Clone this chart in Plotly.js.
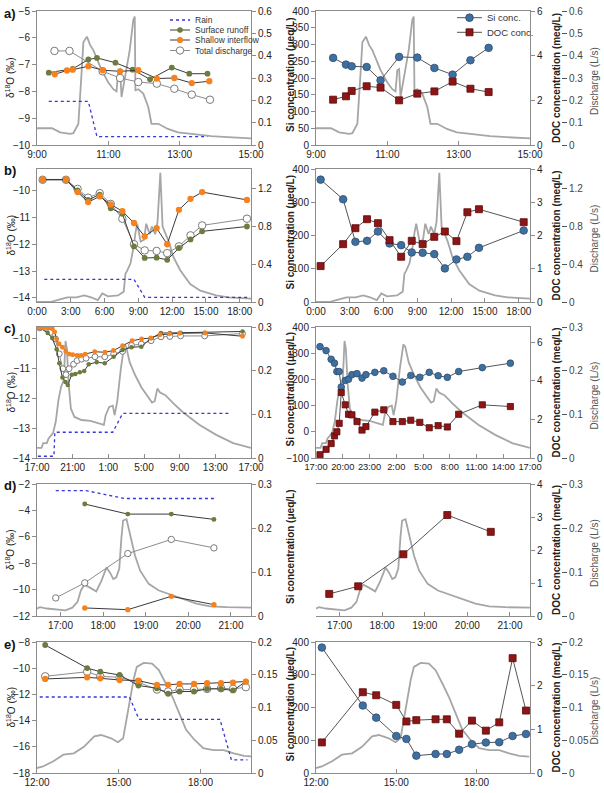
<!DOCTYPE html>
<html><head><meta charset="utf-8">
<script src="https://cdn.plot.ly/plotly-3.0.1.min.js"></script>
<style>html,body{margin:0;padding:0;background:#fff}#chart{width:604px;height:793px}</style>
</head><body><div id="chart"></div>
<script>
// ---------------- DATA ----------------
// Row a
const aTimeQ = [9.0,9.42,9.65,9.93,10.02,10.16,10.26,10.30,10.40,10.49,10.58,10.72,10.81,11.0,11.14,11.23,11.28,11.33,11.37,11.42,11.51,11.6,11.7,11.74,11.76,11.84,11.98,12.12,12.21,12.4,12.67,12.95,13.33,13.88,14.35,15.0];
const aQ = [0.075,0.075,0.057,0.05,0.053,0.095,0.35,0.46,0.485,0.447,0.425,0.365,0.335,0.28,0.25,0.24,0.335,0.34,0.215,0.26,0.35,0.425,0.56,0.575,0.245,0.25,0.23,0.17,0.095,0.095,0.072,0.057,0.05,0.04,0.035,0.03];
const aRainT = [9.33,10.44,10.68,13.78];
const aRain = [0.195,0.195,0.0375,0.0375];
const aSurfT = [9.33,10.0,10.44,10.68,11.2,11.68,12.17,12.78,13.27,13.78];
const aSurf = [-7.3,-7.16,-6.81,-6.75,-6.93,-7.19,-7.55,-7.11,-7.34,-7.34];
const aInterT = [9.5,9.84,10.0,10.44,10.84,11.33,11.84,12.36,12.85,13.34,13.83];
const aInter = [-7.36,-7.22,-7.19,-7.06,-7.21,-7.25,-7.21,-7.52,-7.5,-7.69,-7.62];
const aTotT = [9.49,9.91,10.84,11.33,11.84,12.36,12.85,13.34,13.85];
const aTot = [-6.49,-6.49,-7.25,-7.5,-7.65,-7.71,-7.9,-8.12,-8.31];
const aConcT = [9.48,9.84,10.0,10.42,10.81,11.33,11.84,12.32,12.83,13.33,13.84];
const aSi = [260,240,235,233,193,263,261,230,210,253,290];
const aDOC = [2.03,2.18,2.42,2.63,2.57,2.0,2.3,2.4,2.84,2.52,2.37];
// Row b
const bTimeQ = [0,1.2,1.8,2.7,3.5,4.2,4.8,5.4,5.8,6.3,7.2,7.7,7.85,8.0,8.3,8.6,8.75,8.9,9.2,9.5,9.7,10.0,10.2,10.5,10.7,10.95,11.15,11.4,11.7,12.1,12.7,13.6,14.5,15.9,17.0,19.0];
const bQ = [0,0,0.02,0.05,0.05,0.07,0.05,0.02,0.09,0.06,0.07,0.11,0.3,0.33,0.41,0.6,0.74,0.83,0.64,0.66,0.83,0.72,0.8,0.72,0.85,1.37,0.8,0.72,0.64,0.48,0.34,0.19,0.12,0.07,0.05,0.035];
const bRainT = [0.65,8.61,9.56,18.9];
const bRain = [0.24,0.24,0.05,0.05];
const bIsoT = [0.5,2.57,3.6,4.54,5.57,6.55,7.58,8.61,9.56,10.62,11.56,12.6,13.63,14.66,18.64];
const bSurf = [-9.6,-9.6,-10.0,-10.35,-10.15,-10.66,-10.87,-12.08,-12.51,-12.5,-12.58,-12.14,-11.82,-11.52,-11.34];
const bInter = [-9.59,-9.59,-10.06,-10.43,-10.22,-10.52,-10.77,-11.21,-11.71,-11.4,-12.0,-10.72,-10.31,-10.06,-10.35];
const bTot = [-9.6,-9.6,-9.94,-10.27,-10.1,-10.5,-11.05,-12.0,-12.23,-12.25,-12.33,-12.08,-11.67,-11.3,-11.05];
const bConcT = [0.41,2.41,3.5,4.53,5.5,6.53,7.56,8.5,9.47,10.5,11.44,12.47,13.44,14.47,18.44];
const bSi = [368,309,181,184,212,176,171,149,148,144,101,128,136,163,215];
const bDOC = [1.08,1.74,2.22,2.49,2.37,1.86,1.36,1.84,1.74,1.96,2.12,1.83,2.7,2.79,2.4];
// Row c (hours counted from 0:00 of the first day; 41 = 17:00 next day)
const cTimeQ = [17.0,17.5,17.7,18.1,18.3,18.8,19.1,19.4,19.7,20.0,20.2,20.35,20.55,20.8,21.2,22.0,23.0,24.2,24.5,24.7,25.1,25.5,25.7,26.0,26.4,26.8,27.0,27.4,28.0,28.7,29.3,29.9,30.2,30.5,30.8,31.4,32.3,33.3,35.2,37.1,39.0,41.0];
const cQ = [0.023,0.023,0.034,0.034,0.045,0.057,0.083,0.132,0.163,0.178,0.268,0.25,0.17,0.113,0.094,0.087,0.085,0.079,0.076,0.098,0.117,0.12,0.098,0.13,0.204,0.26,0.255,0.219,0.19,0.162,0.145,0.127,0.13,0.159,0.15,0.144,0.125,0.106,0.076,0.053,0.034,0.023];
const cRainT = [17.1,18.9,19.0,25.5,26.6,38.8];
const cRain = [0.004,0.004,0.059,0.059,0.102,0.102];
const cSurfT = [17.3,18.2,18.7,19.2,19.5,19.85,20.2,20.45,20.9,21.3,21.8,22.3,22.8,23.7,24.6,25.6,26.6,27.6,28.7,29.8,30.9,31.9,33.1,35.8,40.05];
const cSurf = [-9.63,-9.8,-9.97,-10.35,-10.82,-11.3,-11.45,-11.55,-11.2,-11.18,-11.12,-11.08,-10.85,-10.78,-10.82,-10.6,-10.37,-10.28,-10.26,-9.98,-9.8,-9.8,-9.79,-9.79,-9.75];
const cInterT = [17.3,17.76,18.22,18.71,18.98,19.2,19.47,19.85,20.23,20.62,21.0,21.5,21.95,22.41,23.48,24.62,25.57,26.6,27.67,28.73,29.76,30.79,31.86,33.0,35.86,40.05];
const cInter = [-9.63,-9.63,-9.63,-9.66,-9.77,-10.0,-10.17,-10.28,-10.42,-10.51,-10.53,-10.56,-10.56,-10.51,-10.43,-10.45,-10.39,-10.23,-10.06,-10.0,-9.97,-9.86,-9.83,-9.81,-9.8,-9.91];
const cTotT = [17.3,18.5,19.05,19.5,19.9,20.25,20.6,21.1,21.5,22.0,22.5,23.5,24.6,25.6,26.6,27.6,28.7,29.8,30.9,31.9,33.1,35.8,40.05];
const cTot = [-9.63,-9.78,-10.0,-10.5,-11.0,-11.2,-11.0,-10.85,-10.73,-10.68,-10.65,-10.6,-10.6,-10.5,-10.42,-10.22,-10.17,-10.06,-9.93,-9.92,-9.9,-9.9,-9.82];
const cConcT = [17.45,18.13,18.7,19.07,19.34,19.6,19.83,20.28,20.65,21.03,21.6,22.16,22.6,23.6,24.6,25.63,26.68,27.63,28.64,29.7,30.7,31.73,33.0,35.65,38.8];
const cSi = [325,310,277,262,230,230,171,196,201,218,222,205,218,227,233,212,190,215,208,227,214,208,230,245,262];
const cDOC = [0.17,0.45,0.75,1.15,1.36,1.8,3.4,2.76,2.27,2.24,1.89,1.45,1.63,2.38,2.5,1.89,1.89,1.96,1.85,1.57,1.68,1.61,2.27,2.76,2.67];
// Row d
const dTimeQ = [16.36,16.52,16.68,16.92,17.12,17.28,17.4,17.48,17.56,17.68,17.84,17.96,18.08,18.16,18.24,18.31,18.38,18.43,18.47,18.55,18.63,18.75,18.87,19.07,19.31,19.55,19.87,20.19,20.51,20.9,21.48];
const dQ = [0.013,0.02,0.017,0.014,0.013,0.019,0.032,0.058,0.071,0.065,0.056,0.08,0.11,0.099,0.084,0.088,0.107,0.178,0.217,0.22,0.186,0.137,0.103,0.073,0.058,0.05,0.039,0.028,0.022,0.02,0.019];
const dRainT = [16.89,17.6,18.5,20.6];
const dRain = [0.285,0.285,0.267,0.267];
const dIsoT = [17.57,18.58,19.6,20.6];
const dSurf = [-3.52,-4.28,-4.28,-4.68];
const dInter = [-11.39,-11.52,-10.51,-11.14];
const dTotT = [16.89,17.57,18.58,19.6,20.6];
const dTot = [-10.63,-9.49,-7.27,-6.2,-6.84];
const dConcT = [16.76,17.44,18.5,19.53,20.55];
const dDOC = [0.67,0.9,1.87,3.06,2.55];
// Row e
const eTimeQ = [12.0,12.22,12.6,12.97,13.35,13.72,14.1,14.35,14.72,14.97,15.16,15.35,15.54,15.66,15.91,16.22,16.47,16.72,16.97,17.22,17.47,17.79,18.1,18.47,18.85,19.22,19.6,19.97];
const eQ = [0.0076,0.01,0.018,0.028,0.03,0.04,0.056,0.058,0.053,0.047,0.053,0.096,0.142,0.162,0.168,0.167,0.157,0.137,0.116,0.091,0.066,0.05,0.038,0.035,0.035,0.03,0.026,0.025];
const eRainT = [12.1,15.39,15.74,18.71,19.13,19.72];
const eRain = [0.116,0.116,0.082,0.082,0.02,0.02];
const eIsoT = [12.3,13.84,14.32,15.03,15.72,16.4,16.81,17.23,17.76,18.24,18.75,19.19,19.66];
const eSurf = [-8.23,-9.99,-10.27,-10.52,-11.32,-11.53,-11.95,-11.78,-11.78,-11.58,-11.58,-11.7,-11.02];
const eInter = [-10.82,-10.7,-10.77,-10.9,-10.95,-11.27,-11.27,-11.2,-11.2,-11.15,-11.15,-11.1,-11.02];
const eTot = [-10.62,-10.27,-10.62,-10.7,-11.07,-11.63,-11.78,-11.63,-11.63,-11.58,-11.53,-11.58,-11.45];
const eConcT = [12.22,13.75,14.25,15.0,15.38,15.75,16.47,16.89,17.35,17.83,18.35,18.85,19.35,19.85];
const eSi = [383,206,169,113,104,53,58,58,71,88,93,94,113,119];
const eDOC = [0.7,1.85,1.78,1.56,1.18,1.21,1.23,1.23,0.9,1.2,0.97,1.16,2.63,1.43];
// Tick labels
const aTickV = [9,11,13,15], aTickT = ['9:00','11:00','13:00','15:00'];
const bTickV = [0,3,6,9,12,15,18], bTickT = ['0:00','3:00','6:00','9:00','12:00','15:00','18:00'];
const cTickVL = [17,21,25,29,33,37,41], cTickTL = ['17:00','21:00','1:00','5:00','9:00','13:00','17:00'];
const cTickVR = [17,20,23,26,29,32,35,38,41], cTickTR = ['17:00','20:00','23:00','2:00','5:00','8:00','11:00','14:00','17:00'];
const dTickV = [17,18,19,20,21], dTickT = ['17:00','18:00','19:00','20:00','21:00'];
const eTickV = [12,15,18], eTickT = ['12:00','15:00','18:00'];
const seriesNames = ['Rain','Surface runoff','Shallow interflow','Total discharge','Si conc.','DOC conc.'];
const panelLabels = ['a)','b)','c)','d)','e)'];

// ---------------- BUILD ----------------
const W=604, H=793;
const X = p => p/W, Y = p => 1 - p/H;
const FONT = 'Liberation Sans, Arial, sans-serif';
const C = {q:'#a6a6a6', rain:'#3434e0', surf:'#6b7c3e', inter:'#f5821f', tot:'#8c8c8c', si:'#3f6f9f', siLine:'#2d4f74', doc:'#8e1515', line:'#3a3a3a', axis:'#8c8c8c'};

const rows = [
 {top:11,bot:145, tq:aTimeQ,q:aQ, tr:aRainT,rain:aRain, ts:aSurfT,surf:aSurf, ti:aInterT,inter:aInter, tt:aTotT,tot:aTot, tc:aConcT,si:aSi,doc:aDOC,
  xl:[9,15], xr:[9,15], tvL:aTickV, ttL:aTickT, tvR:aTickV, ttR:aTickT, fR:10,
  dR:[-10,-5], dT:[-10,-9,-8,-7,-6,-5], qR:[0,0.6], qT:[0,0.1,0.2,0.3,0.4,0.5,0.6], sR:[0,400], sT:[0,50,100,150,200,250,300,350,400], cR:[0,6], cT:[0,2,4,6], ms:1, mr:1},
 {top:169,bot:302, tq:bTimeQ,q:bQ, tr:bRainT,rain:bRain, ts:bIsoT,surf:bSurf, ti:bIsoT,inter:bInter, tt:bIsoT,tot:bTot, tc:bConcT,si:bSi,doc:bDOC,
  xl:[0,19], xr:[0,19], tvL:bTickV, ttL:bTickT, tvR:bTickV, ttR:bTickT, fR:10,
  dR:[-14.15,-9.2], dT:[-14,-13,-12,-11,-10], qR:[0,1.41], qT:[0,0.4,0.8,1.2], sR:[0,400], sT:[0,100,200,300,400], cR:[0,4], cT:[0,1,2,3,4], ms:1, mr:1},
 {top:327,bot:458, tq:cTimeQ,q:cQ, tr:cRainT,rain:cRain, ts:cSurfT,surf:cSurf, ti:cInterT,inter:cInter, tt:cTotT,tot:cTot, tc:cConcT,si:cSi,doc:cDOC,
  xl:[17,41], xr:[17,41], tvL:cTickVL, ttL:cTickTL, tvR:cTickVR, ttR:cTickTR, fR:9.3,
  dR:[-14,-9.6], dT:[-14,-13,-12,-11,-10], qR:[0,0.3], qT:[0,0.1,0.2,0.3], sR:[-100,400], sT:[-100,0,100,200,300,400], cR:[0,6.8], cT:[0,2,4,6], ms:0.78, mr:0.88},
 {top:484,bot:616, tq:dTimeQ,q:dQ, tr:dRainT,rain:dRain, ts:dIsoT,surf:dSurf, ti:dIsoT,inter:dInter, tt:dTotT,tot:dTot, tc:dConcT,si:null,doc:dDOC,
  xl:[16.45,21.47], xr:[16.45,21.47], tvL:dTickV, ttL:dTickT, tvR:dTickV, ttR:dTickT, fR:10,
  dR:[-12,-2], dT:[-12,-10,-8,-6,-4,-2], qR:[0,0.3], qT:[0,0.1,0.2,0.3], sR:[-13,-9], sT:[-13,-12,-11,-10,-9], cR:[0,4], cT:[0,1,2,3,4], ms:0.85, mr:1},
 {top:642,bot:773, tq:eTimeQ,q:eQ, tr:eRainT,rain:eRain, ts:eIsoT,surf:eSurf, ti:eIsoT,inter:eInter, tt:eIsoT,tot:eTot, tc:eConcT,si:eSi,doc:eDOC,
  xl:[12,19.85], xr:[12,20], tvL:eTickV, ttL:eTickT, tvR:eTickV, ttR:eTickT, fR:10,
  dR:[-18,-8], dT:[-18,-16,-14,-12,-10,-8], qR:[0,0.2], qT:[0,0.05,0.1,0.15,0.2], sR:[0,400], sT:[0,100,200,300,400], cR:[0,3], cT:[0,1,2,3], ms:1, mr:1}
];

const ref = (n,a) => n===1 ? a : a+n;
const key = (n,a) => n===1 ? a+'axis' : a+'axis'+n;
const traces = [];
const layout = {width:W, height:H, margin:{l:0,r:0,t:0,b:0}, showlegend:false, paper_bgcolor:'#fff', plot_bgcolor:'rgba(0,0,0,0)',
  font:{family:FONT, size:10, color:'#222'}, hovermode:false, shapes:[], annotations:[]};
const tickFont = {family:FONT, size:10, color:'#222'};
const xL = [37/W, 251/W], xR = [316/W, 530/W], q2pos = 561/W;

function xAxis(dom, range, tv, tt, anchor, fs){
  return {domain:dom, range:range, anchor:anchor, tickmode:'array', tickvals:tv, ticktext:tt, ticks:'inside', ticklen:4, tickcolor:C.axis,
    tickangle:0, showline:true, mirror:true, linecolor:C.axis, linewidth:1, showgrid:false, zeroline:false, tickfont:{family:FONT,size:fs||10,color:'#222'}};
}
function yAxis(dom, range, tv, side, anchor, extra){
  return Object.assign({domain:dom, range:range, side:side, anchor:anchor, tickmode:'array', tickvals:tv, ticks:'outside', ticklen:4, tickcolor:C.axis,
    showline:true, linecolor:C.axis, linewidth:1, showgrid:false, zeroline:false, tickfont:tickFont}, extra||{});
}
function ann(x,y,text,o){
  layout.annotations.push(Object.assign({xref:'paper',yref:'paper',x:X(x),y:Y(y),text:text,showarrow:false,xanchor:'center',yanchor:'middle',
    font:{family:FONT,size:10,color:'#222'}}, o||{}));
}

rows.forEach((r,i)=>{
  const nxl=2*i+1, nxr=2*i+2, yQ=5*i+1, yD=5*i+2, yQ2=5*i+3, yS=5*i+4, yC=5*i+5;
  const dom=[Y(r.bot), Y(r.top)];
  layout[key(nxl,'x')] = xAxis(xL, r.xl, r.tvL, r.ttL, ref(yQ,'y'), 10);
  layout[key(nxr,'x')] = xAxis(xR, r.xr, r.tvR, r.ttR, ref(yQ2,'y'), r.fR);
  layout[key(yQ,'y')] = yAxis(dom, r.qR, r.qT, 'right', ref(nxl,'x'));
  layout[key(yD,'y')] = yAxis(dom, r.dR, r.dT, 'left', ref(nxl,'x'), {overlaying:ref(yQ,'y')});
  layout[key(yQ2,'y')] = yAxis(dom, r.qR, r.qT, 'right', 'free', {position:q2pos, showline:false, ticklen:5, tickcolor:'#555', tickfont:{family:FONT,size:10,color:'#444'}});
  layout[key(yS,'y')] = yAxis(dom, r.sR, r.sT, 'left', ref(nxr,'x'), {overlaying:ref(yQ2,'y')});
  layout[key(yC,'y')] = yAxis(dom, r.cR, r.cT, 'right', ref(nxr,'x'), {overlaying:ref(yQ2,'y')});
  const xa=ref(nxl,'x'), xb=ref(nxr,'x');
  const m=r.ms, mr=r.mr;
  // left panel
  traces.push({type:'scatter',mode:'lines',x:r.tq,y:r.q,xaxis:xa,yaxis:ref(yQ,'y'),line:{color:C.q,width:1.8},name:'Discharge'});
  traces.push({type:'scatter',mode:'lines',x:r.tr,y:r.rain,xaxis:xa,yaxis:ref(yQ,'y'),line:{color:C.rain,width:1.3,dash:'dot'},name:seriesNames[0]});
  traces.push({type:'scatter',mode:'lines+markers',x:r.tt,y:r.tot,xaxis:xa,yaxis:ref(yD,'y'),line:{color:C.tot,width:1},marker:{color:'#fff',size:7.5*m,line:{color:'#7a7a7a',width:1}},name:seriesNames[3]});
  traces.push({type:'scatter',mode:'lines+markers',x:r.ts,y:r.surf,xaxis:xa,yaxis:ref(yD,'y'),line:{color:C.line,width:1},marker:{color:C.surf,size:5.8*m,line:{width:0}},name:seriesNames[1]});
  traces.push({type:'scatter',mode:'lines+markers',x:r.ti,y:r.inter,xaxis:xa,yaxis:ref(yD,'y'),line:{color:C.line,width:1},marker:{color:C.inter,size:6.3*m,line:{width:0}},name:seriesNames[2]});
  // right panel
  traces.push({type:'scatter',mode:'lines',x:r.tq,y:r.q,xaxis:xb,yaxis:ref(yQ2,'y'),line:{color:C.q,width:1.8},name:'Discharge'});
  if(r.si) traces.push({type:'scatter',mode:'lines+markers',x:r.tc,y:r.si,xaxis:xb,yaxis:ref(yS,'y'),line:{color:'#555',width:1},marker:{color:C.si,size:7.6*mr,line:{color:C.siLine,width:0.8}},name:seriesNames[4]});
  traces.push({type:'scatter',mode:'lines+markers',x:r.tc,y:r.doc,xaxis:xb,yaxis:ref(yC,'y'),line:{color:'#555',width:1},marker:{color:C.doc,symbol:'square',size:7*mr,line:{color:'#5a0a0a',width:0.8}},name:seriesNames[5]});
  // titles
  const mid=(r.top+r.bot)/2;
  ann(2, r.top+2, panelLabels[i], {xanchor:'left', font:{family:FONT,size:13,color:'#111',weight:'bold'}});
  ann(10, mid, 'δ<sup>18</sup>O (‰)', {textangle:-90, font:{family:FONT,size:10,color:'#222'}});
  ann(290, mid-3, '<b>Si concentration (μeq/L)</b>', {textangle:-90, font:{family:FONT,size:10,color:'#222'}});
  ann(556, mid, '<b>DOC concentration (meq/L)</b>', {textangle:-90, font:{family:FONT,size:10,color:'#222'}});
  ann(594, mid+3, 'Discharge (L/s)', {textangle:-90, font:{family:FONT,size:10,color:'#555'}});
});

// manual legends (panel a)
function sLine(x0,x1,y,color,w,dash){layout.shapes.push({type:'line',xref:'paper',yref:'paper',x0:X(x0),x1:X(x1),y0:Y(y),y1:Y(y),line:{color:color,width:w,dash:dash||'solid'}});}
function sCirc(cx,cy,r,fill,lc){layout.shapes.push({type:'circle',xref:'paper',yref:'paper',x0:X(cx-r),x1:X(cx+r),y0:Y(cy+r),y1:Y(cy-r),fillcolor:fill,line:{color:lc||fill,width:lc?1:0}});}
function sRect(cx,cy,r,fill,lc){layout.shapes.push({type:'rect',xref:'paper',yref:'paper',x0:X(cx-r),x1:X(cx+r),y0:Y(cy+r),y1:Y(cy-r),fillcolor:fill,line:{color:lc,width:0.8}});}
const legL = [20,30,40,50.5];
sLine(170,190,legL[0],C.rain,1.3,'dot');
sLine(170,190,legL[1],C.line,1); sCirc(180,legL[1],2.8,C.surf,null);
sLine(170,190,legL[2],C.line,1); sCirc(180,legL[2],3.1,C.inter,null);
sLine(170,190,legL[3],C.tot,1); sCirc(180,legL[3],3.7,'#fff','#7a7a7a');
legL.forEach((y,k)=>ann(193,y,seriesNames[k],{xanchor:'left',font:{family:FONT,size:8.5,color:'#333'}}));
const legR = [17.7,32.3];
sLine(457,482,legR[0],'#555',1); sCirc(469.5,legR[0],3.8,C.si,C.siLine);
sLine(457,482,legR[1],'#555',1); sRect(469.5,legR[1],3.5,C.doc,'#5a0a0a');
legR.forEach((y,k)=>ann(485,y,seriesNames[4+k],{xanchor:'left',font:{family:FONT,size:9.5,color:'#333'}}));

Plotly.newPlot('chart', traces, layout, {staticPlot:true, displayModeBar:false});
</script>
</body></html>
